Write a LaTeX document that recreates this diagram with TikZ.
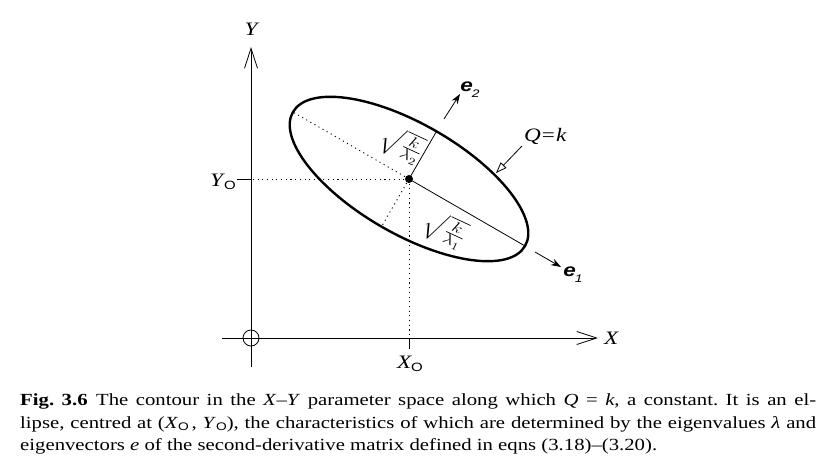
\RequirePackage{fix-cm}
\documentclass[tikz,border=0pt]{standalone}
\usepackage{exscale}
\usepackage{amsmath}
\usepackage{fontspec}
\usepackage{graphicx}
\setmainfont{Liberation Serif}[FakeStretch=1.22]
\newfontfamily\lsans{Liberation Sans}[FakeStretch=1.25]
\usetikzlibrary{arrows.meta,calc}
\begin{document}
\frenchspacing
\begin{tikzpicture}[x=1pt,y=-1pt,
  thinline/.style={line width=0.8pt},
  dotline/.style={line width=0.9pt,dash pattern=on 1.1pt off 3.6pt},
  axisarrow/.style={thinline,-{Straight Barb[length=20pt,width=13pt,line width=0.8pt]}},
  earrow/.style={thinline,-{Stealth[length=10pt,width=7pt]}},
  openarrow/.style={thinline,-{Triangle[open,length=11pt,width=8pt,line width=0.8pt]}},
  lbl/.style={inner sep=0pt,font=\fontsize{19}{22}\selectfont},
  elbl/.style={inner sep=0pt,font=\fontsize{18}{22}\selectfont\lsans\bfseries\itshape},
  sqlbl/.style={inner sep=0pt,font=\fontsize{18}{21}\selectfont,rotate=-25}]
\useasboundingbox (0,0) rectangle (835,473);
% axes
\coordinate (Ybot) at (251,367);
\coordinate (Ytop) at (251,47);
\coordinate (Xleft) at (222,338);
\coordinate (Xright) at (598,338);
\draw[axisarrow] (Ybot) -- (Ytop);
\draw[axisarrow] (Xleft) -- (Xright);
\node[circle,draw,thinline,minimum size=16pt,inner sep=0pt] (orig) at (251,338) {};
\node[lbl] (Ylab) at (252,29) {\textit{Y}};
\node[lbl,anchor=west] (Xlab) at (604,338) {\textit{X}};
% centre
\coordinate (C) at (409,179);
\coordinate (Ytick) at (237,179);
\coordinate (Yax) at (251,179);
\coordinate (Xax) at (409,338);
\coordinate (Xtick) at (409,349);
\draw[thinline] (Ytick) -- (Yax);
\draw[thinline] (Xax) -- (Xtick);
\draw[dotline] (C) -- (Yax);
\draw[dotline] (C) -- (Xax);
\node[lbl,anchor=east] (Y0) at (236,182) {\textit{Y}\kern-1pt\raisebox{-0.35ex}{\lsans\fontsize{12}{12}\selectfont O}};
\node[lbl] (X0) at (410,364) {\textit{X}\kern-1pt\raisebox{-0.35ex}{\lsans\fontsize{12}{12}\selectfont O}};
% ellipse
\draw[line width=2.4pt,rotate around={-30:(C)}] (C) ellipse [x radius=134pt,y radius=55pt];
\coordinate (E1) at ($(C)+(-30:134pt)$);
\coordinate (E1b) at ($(C)+(150:134pt)$);
\coordinate (E2) at ($(C)+(60:55pt)$);
\coordinate (E2b) at ($(C)+(240:55pt)$);
\draw[thinline] (C) -- (E1);
\draw[thinline] (C) -- (E2);
\draw[dotline] (C) -- (E1b);
\draw[dotline] (C) -- (E2b);
\node[circle,fill,inner sep=0pt,minimum size=8pt] (ctr) at (C) {};
% eigenvectors
\coordinate (e1s) at (535,252);
\coordinate (e1t) at (561,267);
\coordinate (e2s) at (444,119);
\coordinate (e2t) at (460,94);
\draw[earrow] (e1s) -- (e1t);
\draw[earrow] (e2s) -- (e2t);
\node[elbl] (e1lab) at (573,275) {e\kern-1pt\raisebox{-0.6ex}{\mdseries\fontsize{11}{11}\selectfont 1}};
\node[elbl] (e2lab) at (470,90) {e\kern-1pt\raisebox{-0.6ex}{\mdseries\fontsize{11}{11}\selectfont 2}};
% Q=k
\node[lbl,anchor=west] (Qk) at (524,136) {\textit{Q}\kern1pt=\kern1pt\textit{k}};
\coordinate (Qs) at (522,146);
\coordinate (Qt) at (496,173);
\draw[openarrow] (Qs) -- (Qt);
% sqrt labels
\node[sqlbl] (s2) at (402,145) {\scalebox{1.25}[1]{$\sqrt{\frac{\mbox{\fontsize{15}{15}\selectfont$k$}}{\mbox{\fontsize{15}{15}\selectfont$\lambda_2$}}}$}};
\node[sqlbl] (s1) at (445,230) {\scalebox{1.25}[1]{$\sqrt{\frac{\mbox{\fontsize{15}{15}\selectfont$k$}}{\mbox{\fontsize{15}{15}\selectfont$\lambda_1$}}}$}};
% caption
\node[anchor=north west,inner sep=0pt,text width=796pt,align=justify,
  font=\fontsize{17}{22.5}\selectfont] (cap) at (20,394)
{\textbf{Fig.\ 3.6}\enspace The contour in the \textit{X}–\textit{Y} parameter space along which \textit{Q}~=~\textit{k}, a constant. It is an el-\linebreak
lipse, centred at (\textit{X}\raisebox{-0.3ex}{\lsans\fontsize{11}{11}\selectfont O}\,, \textit{Y}\raisebox{-0.3ex}{\lsans\fontsize{11}{11}\selectfont O}), the characteristics of which are determined by the eigenvalues \textit{λ} and\linebreak
eigenvectors \textit{e} of the second-derivative matrix defined in eqns (3.18)–(3.20).};
\end{tikzpicture}
\end{document}
